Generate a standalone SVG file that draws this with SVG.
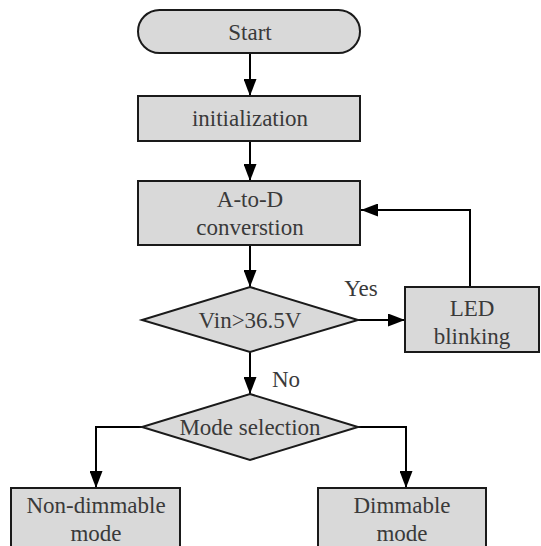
<svg xmlns="http://www.w3.org/2000/svg" width="541" height="546" viewBox="0 0 541 546" font-family="Liberation Serif, DejaVu Serif, serif">
<defs>
<marker id="ah" viewBox="0 0 10 10" refX="10" refY="5" markerWidth="17" markerHeight="13" markerUnits="userSpaceOnUse" orient="auto" preserveAspectRatio="none">
<path d="M0,0 L10,5 L0,10 Z" fill="#000"/>
</marker>
<style>
.n{fill:#d9d9d9;stroke:#1a1a1a;stroke-width:2}
.t{font-size:23px;fill:#3a3a3a;text-anchor:middle}
.c{fill:none;stroke:#000;stroke-width:2}
</style>
</defs>
<rect width="541" height="546" fill="#fff"/>
<g id="connectors">
<path class="c" d="M250,53 V96" marker-end="url(#ah)"/>
<path class="c" d="M250,141 V181" marker-end="url(#ah)"/>
<path class="c" d="M250,245 V287" marker-end="url(#ah)"/>
<path class="c" d="M358,320 H405" marker-end="url(#ah)"/>
<path class="c" d="M470,287 V210 H361" marker-end="url(#ah)"/>
<path class="c" d="M250,352 V394" marker-end="url(#ah)"/>
<path class="c" d="M144,427 H96 V488" marker-end="url(#ah)"/>
<path class="c" d="M356,427 H406 V488" marker-end="url(#ah)"/>
<text class="t" x="361" y="296">Yes</text>
<text class="t" x="286" y="387">No</text>
</g>
<g id="start">
<rect class="n" x="138" y="10" width="222" height="43" rx="21.5"/>
<text class="t" x="250" y="40">Start</text>
</g>
<g id="init">
<rect class="n" x="138" y="96" width="222" height="45"/>
<text class="t" x="250" y="126">initialization</text>
</g>
<g id="adc">
<rect class="n" x="138" y="181" width="222" height="64"/>
<text class="t" x="250" y="207">A-to-D</text>
<text class="t" x="250" y="235">converstion</text>
</g>
<g id="vin">
<polygon class="n" points="250,287 358,320 250,352 142,320"/>
<text class="t" x="250" y="328">Vin&gt;36.5V</text>
</g>
<g id="led">
<rect class="n" x="405" y="287" width="134" height="65"/>
<text class="t" x="472" y="316">LED</text>
<text class="t" x="472" y="344">blinking</text>
</g>
<g id="mode">
<polygon class="n" points="250,394 358,427 250,460 142,427"/>
<text class="t" x="250" y="435">Mode selection</text>
</g>
<g id="nondim">
<rect class="n" x="11" y="488" width="169" height="64"/>
<text class="t" x="96" y="513">Non-dimmable</text>
<text class="t" x="96" y="541">mode</text>
</g>
<g id="dim">
<rect class="n" x="318" y="488" width="168" height="64"/>
<text class="t" x="402" y="513">Dimmable</text>
<text class="t" x="402" y="541">mode</text>
</g>
</svg>
